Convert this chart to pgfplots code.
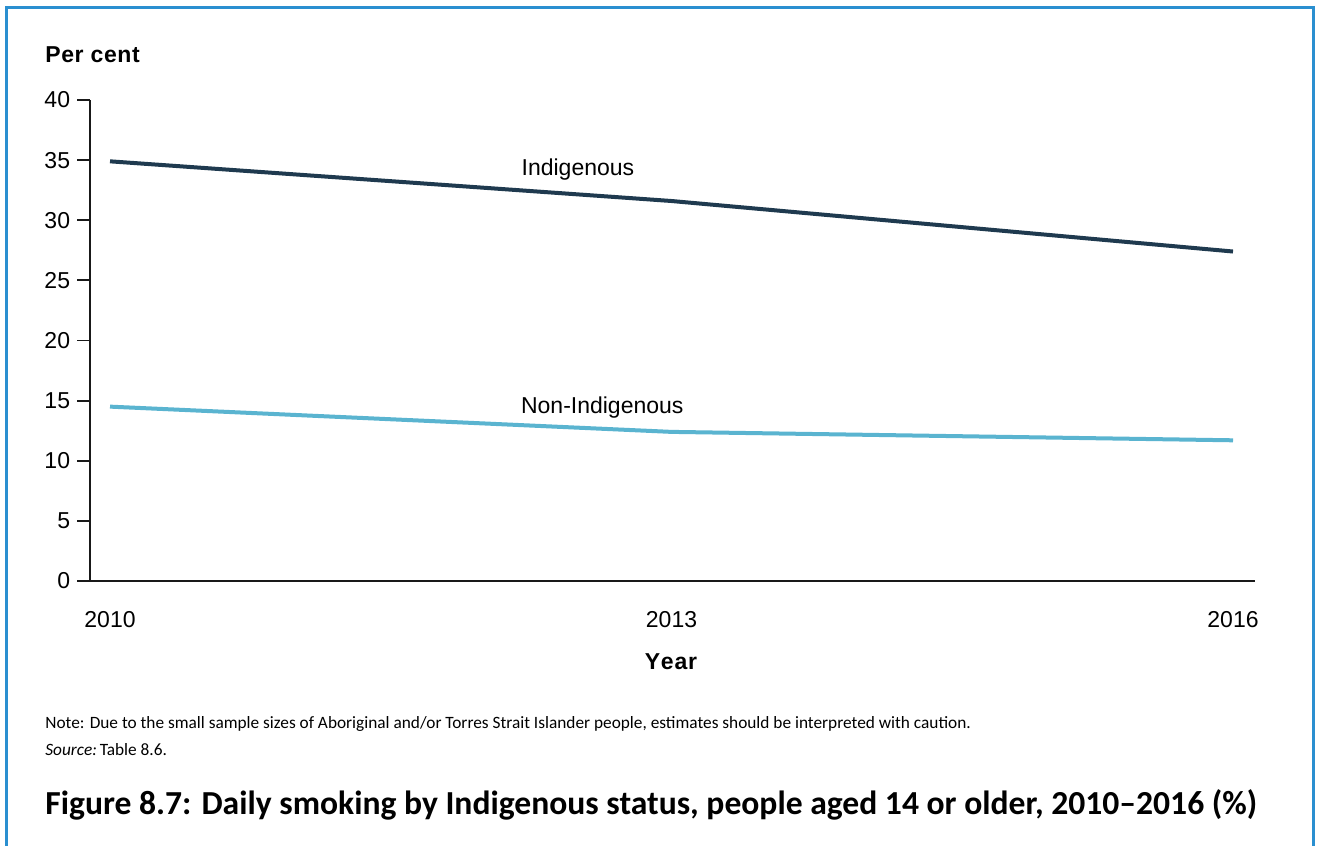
\documentclass[border=0pt]{standalone}
\usepackage{pgfplots}
\pgfplotsset{compat=1.18}
\usepackage{fontspec}
\setmainfont{Liberation Sans}
\newfontfamily\myriad[Ligatures=TeX]{Carlito}
\definecolor{indig}{HTML}{1F3A4F}
\definecolor{nonindig}{HTML}{5AB4D0}
\definecolor{frame}{HTML}{2A8FD0}
\begin{document}
\begin{tikzpicture}
\useasboundingbox (0,0) rectangle (659.5pt,423.5pt);
\fill[white] (0,0) rectangle (659.5pt,423.5pt);
\draw[frame, line width=1.5pt] (3pt,0.5pt) -- (3pt,419.5pt) -- (656.5pt,419.5pt) -- (656.5pt,0.5pt);
\begin{axis}[
  at={(45pt,133pt)}, anchor=south west,
  scale only axis, width=582.5pt, height=240.5pt,
  xmin=2009.893, xmax=2016.1175, ymin=0, ymax=40,
  axis x line=bottom, axis y line=left,
  axis line style={-, line width=0.9pt, black!90},
  xtick={2010,2013,2016},
  ytick={0,5,...,40},
  tick align=outside,
  y tick style={line width=0.9pt, black!90},
  major tick length=6.5pt,
  x tick style={draw=none},
  xticklabel style={font=\fontsize{11.5}{13}\selectfont, yshift=-5pt},
  yticklabel style={font=\fontsize{11.5}{13}\selectfont},
  x tick label style={/pgf/number format/1000 sep={}},
  /pgf/number format/assume math mode=true,
  clip=false,
]
\addplot[indig, line width=2pt] coordinates {(2010,34.9) (2013,31.6) (2016,27.4)};
\addplot[nonindig, line width=2pt] coordinates {(2010,14.5) (2013,12.4) (2016,11.7)};
\node[font=\fontsize{11.5}{13}\selectfont] at (axis cs:2012.5,34.18) {Indigenous};
\node[font=\fontsize{11.5}{13}\selectfont] at (axis cs:2012.63,14.39) {Non-Indigenous};
\end{axis}
\node[anchor=west, inner sep=0pt, font=\bfseries\fontsize{11.5}{13}\selectfont] at (22.5pt,396pt) {P\kern0.3pt e\kern0.3pt r\kern0.3pt\ c\kern0.3pt e\kern0.3pt n\kern0.3pt t};
\node[font=\bfseries\fontsize{11.5}{13}\selectfont] at (335.5pt,92.5pt) {Y\kern0.4pt e\kern0.4pt a\kern0.4pt r};
\node[anchor=west, inner sep=0pt, font=\myriad\fontsize{8.65}{10}\selectfont] at (22.5pt,61.5pt) {Note: Due to the small sample sizes of Aboriginal and/or Torres Strait Islander people, estimates should be interpreted with caution.};
\node[anchor=west, inner sep=0pt, font=\myriad\fontsize{8.65}{10}\selectfont] at (22.5pt,48.5pt) {\textit{Source:}\,Table 8.6.};
\node[anchor=west, inner sep=0pt, font=\myriad\bfseries\fontsize{16.8}{19}\selectfont] at (22.5pt,21pt) {Figure 8.7: Daily smoking by Indigenous status, people aged 14 or older, 2010–2016 (\%)};
\end{tikzpicture}
\end{document}
